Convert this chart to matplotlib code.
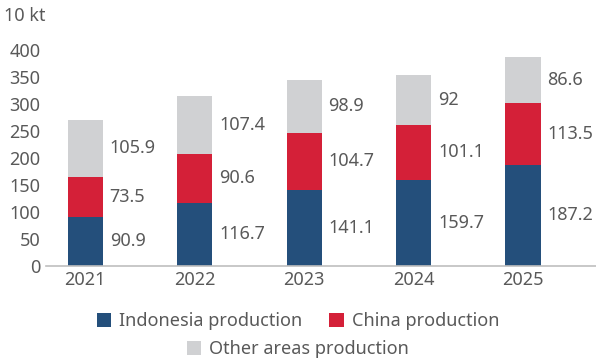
import matplotlib
matplotlib.use("Agg")
import matplotlib.pyplot as plt
from matplotlib.patches import Patch
import numpy as np

plt.rcParams['font.family'] = ['Noto Sans', 'DejaVu Sans']

years = ['2021', '2022', '2023', '2024', '2025']
indonesia = [90.9, 116.7, 141.1, 159.7, 187.2]
china = [73.5, 90.6, 104.7, 101.1, 113.5]
other = [105.9, 107.4, 98.9, 92, 86.6]
series_names = ['Indonesia production', 'China production', 'Other areas production']
colors = ['#244F7B', '#D42038', '#D0D1D3']
yticks = [0, 50, 100, 150, 200, 250, 300, 350, 400]
unit_label = '10 kt'

txt = '#595959'
fs = 13

fig = plt.figure(figsize=(5.96, 3.6), dpi=100)
W, H = 596, 360
ax = fig.add_axes([46 / W, 1 - 265.7 / H, (596 - 46) / W, (265.7 - 49.8) / H])

x = np.arange(len(years))
bw = 0.32
bottom = np.zeros(len(years))
for vals, c in zip([indonesia, china, other], colors):
    v = np.array(vals)
    ax.bar(x, v, bw, bottom=bottom, color=c, zorder=2)
    for xi, b, vi in zip(x, bottom, v):
        s = f'{vi:g}'
        ax.annotate(s, (xi + bw / 2, b + vi / 2), xytext=(7, 0), textcoords='offset pixels',
                    ha='left', va='center', fontsize=fs, color=txt)
    bottom += v

ax.set_xlim(-0.358, 4.667)
ax.set_ylim(0, 400)
ax.set_yticks(yticks)
ax.set_xticks(x)
ax.set_xticklabels(years)
for s in ['top', 'right', 'left']:
    ax.spines[s].set_visible(False)
ax.spines['bottom'].set_color('#BFBFBF')
ax.spines['bottom'].set_linewidth(1.2)
ax.tick_params(axis='both', length=0, labelsize=fs, labelcolor=txt)
ax.tick_params(axis='y', pad=4)
ax.tick_params(axis='x', pad=4)

fig.text(4 / W, 1 - 16 / H, unit_label, fontsize=fs, color=txt, ha='left', va='center')

handles = [Patch(facecolor=c, edgecolor='none') for c in colors]
common = dict(frameon=False, fontsize=fs, labelcolor=txt, handlelength=0.8, handleheight=0.8,
              handletextpad=0.45, columnspacing=1.5, borderpad=0, borderaxespad=0)
leg1 = fig.legend(handles[:2], series_names[:2], ncol=2, loc='center',
                  bbox_to_anchor=(298 / W, 1 - 321 / H), **common)
leg2 = fig.legend(handles[2:], series_names[2:], ncol=1, loc='center',
                  bbox_to_anchor=(298 / W, 1 - 349 / H), **common)

fig.savefig('out.png', dpi=100)
